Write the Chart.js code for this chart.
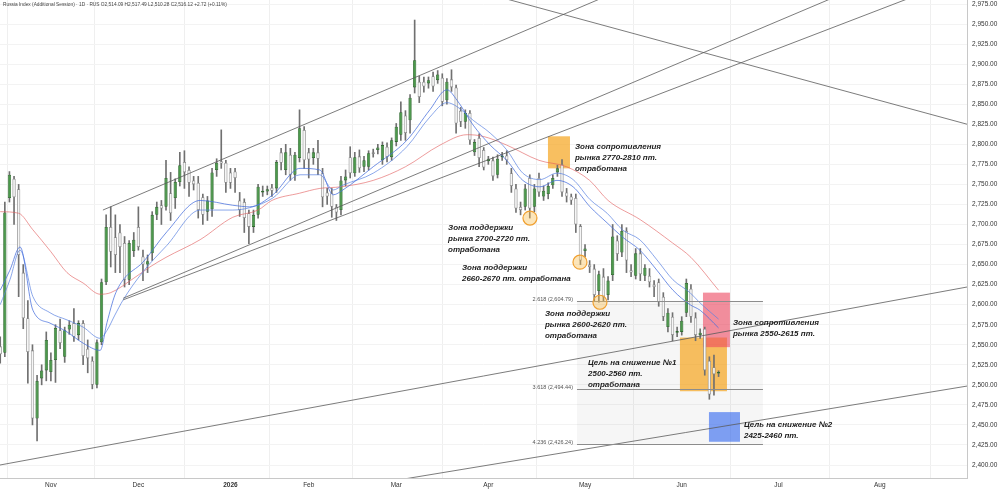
<!DOCTYPE html>
<html>
<head>
<meta charset="utf-8">
<title>Russia Index</title>
<script src="https://cdn.jsdelivr.net/npm/chart.js"></script>
<style>
  html, body { margin: 0; padding: 0; background: #fff; }
  #wrap { width: 1000px; height: 490px; }
</style>
</head>
<body>
<div id="wrap"><canvas id="chart" width="1000" height="490"></canvas></div>
<script>
// Daily candles, one per trading day (index 0 = mid Oct 2025, last = Jun 2026)
const open = [2548,2540,2733,2757,2744,2640,2583,2543,2458,2508,2518,2516,2531,2568,2535,2569,2577,2562,2577,2545,
  2530,2500,2553,2628,2697,2684,2690,2677,2631,2667,2697,2660,2650,2664,2712,2724,2722,2739,2733,2753,
  2778,2768,2755,2752,2734,2716,2719,2768,2779,2777,2765,2766,2730,2728,2714,2697,2712,2740,2741,2746,
  2745,2790,2768,2787,2762,2783,2818,2790,2783,2790,2764,2740,2739,2722,2718,2755,2784,2764,2785,2772,
  2772,2790,2793,2780,2797,2784,2803,2812,2836,2830,2871,2878,2878,2876,2885,2880,2883,2855,2881,2871,
  2842,2828,2839,2790,2808,2793,2779,2780,2762,2784,2786,2764,2745,2722,2722,2758,2722,2758,2735,2738,
  2749,2765,2775,2740,2735,2733,2698,2667,2650,2645,2617,2635,2612,2637,2680,2665,2692,2643,2636,2664,
  2636,2636,2625,2628,2610,2572,2585,2565,2566,2590,2620,2584,2562,2570,2530,2522,2514.09];
const high = [2560,2728,2766,2760,2750,2650,2605,2550,2512,2525,2566,2540,2575,2582,2572,2580,2595,2580,2580,2556,
  2535,2556,2632,2712,2722,2712,2700,2685,2680,2690,2722,2668,2662,2716,2728,2730,2780,2765,2757,2790,
  2792,2772,2760,2760,2738,2735,2770,2782,2818,2780,2770,2770,2740,2732,2718,2718,2750,2748,2748,2750,
  2780,2795,2800,2795,2790,2843,2822,2795,2795,2805,2770,2745,2745,2725,2760,2768,2797,2790,2793,2785,
  2792,2794,2800,2803,2802,2808,2826,2853,2842,2862,2955,2885,2884,2884,2890,2892,2888,2882,2893,2874,
  2846,2843,2842,2806,2813,2796,2785,2784,2787,2790,2792,2770,2750,2728,2750,2762,2750,2764,2748,2752,
  2762,2774,2781,2745,2738,2738,2700,2675,2655,2650,2642,2645,2635,2700,2686,2700,2696,2650,2670,2670,
  2650,2645,2630,2632,2615,2595,2590,2572,2585,2632,2625,2590,2570,2572,2535,2537,2517.49];
const low = [2527,2535,2728,2700,2610,2570,2502,2450,2430,2500,2505,2505,2503,2545,2528,2563,2554,2556,2525,2515,
  2495,2496,2550,2625,2647,2640,2640,2622,2625,2660,2668,2630,2640,2655,2706,2700,2718,2705,2720,2748,
  2745,2735,2743,2708,2700,2705,2710,2760,2770,2740,2745,2740,2710,2690,2676,2690,2708,2735,2737,2735,
  2740,2768,2762,2755,2755,2778,2770,2758,2775,2762,2722,2725,2709,2705,2712,2748,2758,2760,2765,2766,
  2768,2784,2788,2775,2778,2780,2798,2805,2805,2814,2864,2852,2865,2870,2866,2876,2848,2850,2866,2814,
  2822,2820,2800,2786,2772,2768,2775,2755,2758,2780,2775,2740,2715,2712,2718,2708,2716,2735,2730,2732,
  2745,2760,2735,2728,2725,2690,2650,2660,2640,2605,2603,2605,2606,2630,2655,2660,2640,2635,2632,2630,
  2630,2622,2610,2598,2580,2566,2555,2560,2562,2585,2578,2555,2558,2512,2482,2487,2510.28];
const close = [2538,2715,2762,2734,2662,2583,2541,2458,2505,2518,2556,2531,2571,2552,2568,2575,2560,2577,2536,2533,
  2500,2553,2628,2697,2666,2662,2672,2631,2677,2681,2672,2650,2654,2712,2722,2720,2758,2714,2753,2774,
  2765,2752,2750,2718,2712,2730,2765,2777,2776,2752,2752,2758,2718,2708,2697,2712,2747,2742,2744,2742,
  2778,2777,2790,2762,2787,2820,2780,2781,2790,2782,2734,2735,2722,2715,2755,2760,2764,2784,2770,2780,
  2789,2788,2796,2799,2784,2805,2822,2840,2814,2858,2905,2859,2872,2880,2872,2887,2853,2878,2871,2826,
  2828,2839,2805,2803,2783,2771,2782,2760,2782,2786,2780,2748,2720,2718,2745,2720,2745,2740,2742,2748,
  2758,2770,2740,2735,2730,2700,2655,2670,2647,2612,2638,2610,2630,2685,2663,2692,2655,2640,2664,2638,
  2646,2628,2622,2603,2585,2590,2562,2567,2580,2627,2585,2562,2565,2518,2488,2513,2516.12];

// month labels and the bar index each month starts at
const monthNames = ['Nov', 'Dec', '2026', 'Feb', 'Mar', 'Apr', 'May', 'Jun', 'Jul', 'Aug'];
const monthStart = [11, 30, 50, 67, 86, 106, 127, 148, 169, 191];

const priceTicks = [2400, 2425, 2450, 2475, 2500, 2525, 2550, 2575, 2600, 2625, 2650, 2675,
  2700, 2725, 2750, 2775, 2800, 2825, 2850, 2875, 2900, 2925, 2950, 2975];

// moving averages (bar index, value)
const maFastIdx = [0, 2.1, 4.3, 7.1, 10.8, 14.5, 18, 21.7, 23.2, 24.9, 26.7, 31, 36.2, 43.4, 50.5, 54.2, 59.2, 65.1, 69.4, 72.3,
  74.4, 81, 88.3, 93.3, 97, 99.2, 102.7, 106.4, 110, 113.5, 117.2, 120.9, 124.4, 128.1, 131.8, 135.2, 138.9, 142.6, 146.1, 149.8, 152, 156];
const maFastVal = [2618, 2643, 2672, 2593, 2577, 2566, 2552, 2543, 2578, 2612, 2631, 2653, 2691, 2730, 2724, 2722, 2737, 2770, 2768, 2737,
  2743, 2772, 2805, 2843, 2868, 2855, 2824, 2799, 2780, 2755, 2747, 2755, 2747, 2722, 2702, 2684, 2668, 2643, 2618, 2600, 2593, 2571];
const maMidIdx = maFastIdx;
const maMidVal = [2600, 2631, 2668, 2610, 2590, 2581, 2572, 2558, 2568, 2587, 2606, 2641, 2674, 2718, 2718, 2721, 2733, 2762, 2762, 2743,
  2749, 2764, 2797, 2834, 2852, 2847, 2830, 2814, 2793, 2764, 2756, 2764, 2756, 2731, 2714, 2693, 2681, 2656, 2631, 2615, 2602, 2582];
const maSlowIdx = [0, 4, 7, 11, 14.5, 18, 21.7, 24, 29, 32.5, 36, 43.4, 50.5, 56, 59, 65, 69.4, 74, 81, 88, 95.5, 101.4, 104.8,
  110, 117, 123, 128, 132, 139, 146, 150, 156];
const maSlowVal = [2716, 2714, 2694, 2666, 2640, 2627, 2613, 2615, 2633, 2647, 2659, 2681, 2709, 2718, 2730, 2739, 2745, 2747, 2755,
  2772, 2799, 2812, 2810, 2799, 2780, 2772, 2755, 2730, 2706, 2677, 2659, 2618];

// drawings on the chart, in bar index / price units
const trendLines = [
  { from: [22.3, 2718], to: [135, 2993] },
  { from: [26.7, 2608], to: [190, 3005] },
  { from: [26.7, 2606], to: [210, 3010] },
  { from: [105, 2989], to: [210, 2825] },
  { from: [-0.05, 2400], to: [209.95, 2622] },
  { from: [85, 2380], to: [210, 2498.5] }
];
const zones = [
  { from: 118.95, to: 123.73, lo: 2770, hi: 2810, color: 'rgba(245,166,35,0.72)' },
  { from: 147.61, to: 157.82, lo: 2492, hi: 2559, color: 'rgba(245,166,35,0.72)' },
  { from: 152.61, to: 158.47, lo: 2547, hi: 2615, color: 'rgba(236,70,95,0.6)' },
  { from: 153.91, to: 160.65, lo: 2429, hi: 2466, color: 'rgba(60,110,240,0.65)' }
];
const marks = [[115.04, 2708], [125.9, 2653], [130.24, 2603]];
const fibLevels = [2604.79, 2494.44, 2426.24];
const fibNames = ['2.618', '3.618', '4.236'];
const fibSpan = [125.25, 165.64];
const notes = [
  { at: [124.81, 2797], lines: ['Зона сопротивления', 'рынка 2770-2810 пт.', 'отработана'] },
  { at: [97.24, 2696], lines: ['Зона поддержки', 'рынка 2700-2720 пт.', 'отработана'] },
  { at: [100.27, 2646], lines: ['Зона поддержки', '2660-2670 пт. отработана'] },
  { at: [118.3, 2588], lines: ['Зона поддержки', 'рынка 2600-2620 пт.', 'отработана'] },
  { at: [127.64, 2528], lines: ['Цель на снижение №1', '2500-2560 пт.', 'отработана'] },
  { at: [159.12, 2577], lines: ['Зона сопротивления', 'рынка 2550-2615 пт.'] },
  { at: [161.51, 2450], lines: ['Цель на снижение №2', '2425-2460 пт.'] }
];
const header = 'Russia Index (Additional Session) · 1D · RUS O2,514.09 H2,517.49 L2,510.28 C2,516.12 +2.72 (+0.11%)';

Chart.defaults.font.family = '"Liberation Sans", Arial, sans-serif';

const up = close.map((c, k) => c >= open[k]);
const bodies = open.map((o, k) => ({ x: k, y: [o, close[k]] }));
const wicks = open.map((o, k) => ({ x: k, y: [low[k], high[k]] }));
const pts = (xs, ys) => xs.map((v, k) => ({ x: v, y: ys[k] }));

const drawings = {
  id: 'drawings',
  beforeDatasetsDraw(chart) {
    const { ctx, chartArea: a, scales: { x, y } } = chart;
    ctx.save();
    ctx.beginPath();
    ctx.rect(a.left, a.top, a.width, a.height);
    ctx.clip();
    // fib background
    const fx1 = x.getPixelForValue(fibSpan[0]), fx2 = x.getPixelForValue(fibSpan[1]);
    const fy1 = y.getPixelForValue(fibLevels[0]), fy2 = y.getPixelForValue(fibLevels[2]);
    ctx.fillStyle = 'rgba(0,0,0,0.035)';
    ctx.fillRect(fx1, fy1, fx2 - fx1, fy2 - fy1);
    zones.forEach(z => {
      const x1 = x.getPixelForValue(z.from), x2 = x.getPixelForValue(z.to);
      const y1 = y.getPixelForValue(z.hi), y2 = y.getPixelForValue(z.lo);
      ctx.fillStyle = z.color;
      ctx.fillRect(x1, y1, x2 - x1, y2 - y1);
    });
    ctx.restore();
  },
  afterDatasetsDraw(chart) {
    const { ctx, chartArea: a, scales: { x, y } } = chart;
    ctx.save();
    ctx.beginPath();
    ctx.rect(a.left, a.top, a.width, a.height);
    ctx.clip();

    ctx.strokeStyle = '#5a5a5a';
    ctx.lineWidth = 0.8;
    trendLines.forEach(l => {
      ctx.beginPath();
      ctx.moveTo(x.getPixelForValue(l.from[0]), y.getPixelForValue(l.from[1]));
      ctx.lineTo(x.getPixelForValue(l.to[0]), y.getPixelForValue(l.to[1]));
      ctx.stroke();
    });

    // fib levels
    const fx1 = x.getPixelForValue(fibSpan[0]), fx2 = x.getPixelForValue(fibSpan[1]);
    ctx.strokeStyle = '#8c8c8c';
    ctx.lineWidth = 1;
    ctx.fillStyle = '#555';
    ctx.font = '5.5px "Liberation Sans", Arial, sans-serif';
    ctx.textAlign = 'right';
    ctx.textBaseline = 'middle';
    fibLevels.forEach((lv, k) => {
      const py = Math.round(y.getPixelForValue(lv)) + 0.5;
      ctx.beginPath();
      ctx.moveTo(fx1, py);
      ctx.lineTo(fx2, py);
      ctx.stroke();
      const txt = fibNames[k] + ' (' + lv.toLocaleString('en-US', { minimumFractionDigits: 2 }) + ')';
      ctx.fillText(txt, fx1 - 4, py - 2);
    });

    // circled touch points
    marks.forEach(m => {
      ctx.beginPath();
      ctx.arc(x.getPixelForValue(m[0]), y.getPixelForValue(m[1]), 7, 0, Math.PI * 2);
      ctx.fillStyle = 'rgba(248,190,80,0.4)';
      ctx.fill();
      ctx.strokeStyle = '#f0a030';
      ctx.lineWidth = 1.2;
      ctx.stroke();
    });

    // notes
    ctx.fillStyle = '#1c1c1c';
    ctx.font = 'italic bold 8px "Liberation Sans", Arial, sans-serif';
    ctx.textAlign = 'left';
    ctx.textBaseline = 'middle';
    notes.forEach(n => {
      const nx = x.getPixelForValue(n.at[0]);
      const ny = y.getPixelForValue(n.at[1]);
      n.lines.forEach((t, k) => ctx.fillText(t, nx, ny + k * 11));
    });
    ctx.restore();

    ctx.save();
    ctx.fillStyle = '#444';
    ctx.font = '4.8px "Liberation Sans", Arial, sans-serif';
    ctx.textAlign = 'left';
    ctx.textBaseline = 'middle';
    ctx.fillText(header, 3, 5);
    ctx.restore();
  }
};

new Chart(document.getElementById('chart'), {
  type: 'bar',
  data: {
    datasets: [
      {
        type: 'line', data: pts(maFastIdx, maFastVal), borderColor: 'rgba(70,110,220,0.75)',
        borderWidth: 1, pointRadius: 0, cubicInterpolationMode: 'monotone', order: 0
      },
      {
        type: 'line', data: pts(maMidIdx, maMidVal), borderColor: 'rgba(90,130,225,0.7)',
        borderWidth: 1, pointRadius: 0, cubicInterpolationMode: 'monotone', order: 0
      },
      {
        type: 'line', data: pts(maSlowIdx, maSlowVal), borderColor: 'rgba(225,90,90,0.6)',
        borderWidth: 1, pointRadius: 0, cubicInterpolationMode: 'monotone', order: 0
      },
      {
        data: bodies, grouped: false, order: 1,
        backgroundColor: up.map(u => u ? '#4b9a4b' : '#f6f6f6'),
        borderColor: up.map(u => u ? '#2f6a2f' : '#8a8a8a'),
        borderWidth: 0.8, borderSkipped: false,
        barPercentage: 0.72, categoryPercentage: 1
      },
      {
        data: wicks, grouped: false, order: 2,
        backgroundColor: '#707070', barThickness: 1
      }
    ]
  },
  options: {
    responsive: false,
    animation: false,
    devicePixelRatio: 1,
    layout: { padding: 0 },
    plugins: { legend: { display: false }, tooltip: { enabled: false } },
    scales: {
      x: {
        type: 'linear', min: -0.05, max: 209.95, offset: false,
        afterFit: s => { s.height = 12; s.paddingLeft = 0; s.paddingRight = 0; },
        afterBuildTicks: s => { s.ticks = monthStart.map(v => ({ value: v })); },
        ticks: {
          autoSkip: false, maxRotation: 0, padding: 3, color: '#333',
          font: c => ({ size: 6.5, weight: c.tick && c.tick.value === 50 ? 'bold' : 'normal' }),
          callback: v => monthNames[monthStart.indexOf(v)]
        },
        grid: { color: '#efefef', drawTicks: false },
        border: { color: '#c8c8c8' }
      },
      y: {
        position: 'right', min: 2383.8, max: 2980,
        afterFit: s => { s.width = 33; s.paddingTop = 0; s.paddingBottom = 0; },
        afterBuildTicks: s => { s.ticks = priceTicks.map(v => ({ value: v })); },
        ticks: {
          padding: 5, color: '#333', font: { size: 6.5 },
          callback: v => v.toLocaleString('en-US', { minimumFractionDigits: 2, maximumFractionDigits: 2 })
        },
        grid: { color: '#f3f3f3', drawTicks: false },
        border: { color: '#c8c8c8' }
      }
    }
  },
  plugins: [drawings]
});
</script>
</body>
</html>
